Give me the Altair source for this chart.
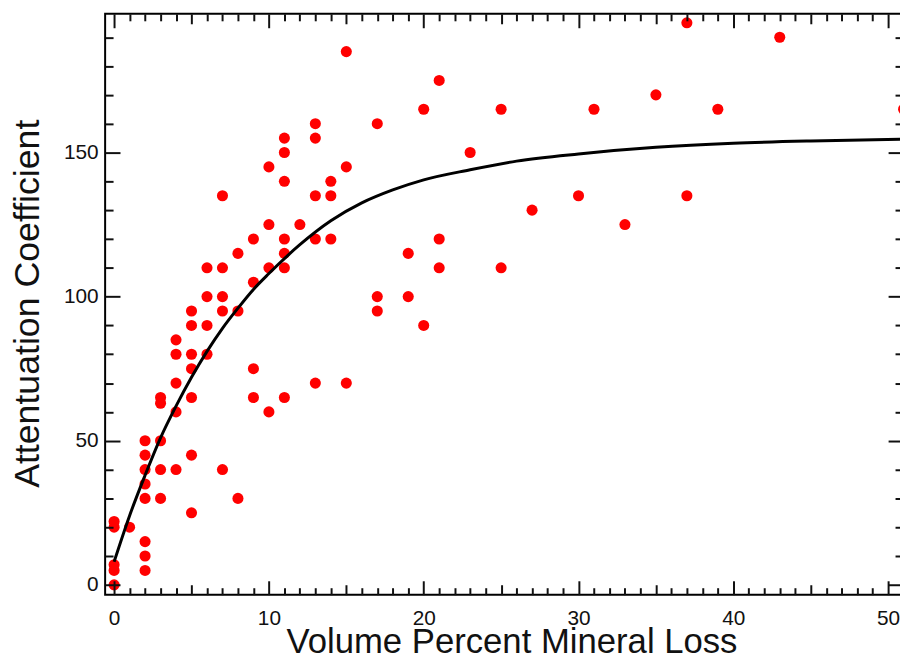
import altair as alt
import pandas as pd

# Scatter data: volume percent mineral loss vs attenuation coefficient
pts_x = [0, 0, 0, 0, 0,
         1,
         2, 2, 2, 2, 2, 2, 2, 2,
         3, 3, 3, 3, 3,
         4, 4, 4, 4, 4,
         5, 5, 5, 5, 5, 5, 5,
         6, 6, 6, 6,
         7, 7, 7, 7, 7,
         8, 8, 8,
         9, 9, 9, 9,
         10, 10, 10, 10,
         11, 11, 11, 11, 11, 11, 11,
         12,
         13, 13, 13, 13, 13,
         14, 14, 14,
         15, 15, 15,
         17, 17, 17,
         19, 19,
         20, 20,
         21, 21, 21,
         23,
         25, 25,
         27,
         30,
         31,
         33,
         35,
         37, 37,
         39,
         43,
         51]
pts_y = [22, 20, 7, 5, 0,
         20,
         50, 45, 40, 35, 30, 15, 10, 5,
         65, 63, 50, 40, 30,
         85, 80, 70, 60, 40,
         95, 90, 80, 75, 65, 45, 25,
         110, 100, 90, 80,
         135, 110, 100, 95, 40,
         115, 95, 30,
         120, 105, 75, 65,
         145, 125, 110, 60,
         155, 150, 140, 120, 115, 110, 65,
         125,
         160, 155, 135, 120, 70,
         140, 135, 120,
         185, 145, 70,
         160, 100, 95,
         115, 100,
         165, 90,
         175, 120, 110,
         150,
         165, 110,
         130,
         135,
         165,
         125,
         170,
         195, 135,
         165,
         190,
         165]

# Fitted curve
curve_x = [0, 1, 2, 3, 4, 5, 6, 7, 8, 9, 10, 12, 14, 16, 18, 20, 23, 26, 30, 35, 40, 45, 51]
curve_y = [8, 24, 38, 51, 62, 72, 81, 89, 96, 102.5, 108, 118, 126.3, 132.5, 137, 140.5,
           144, 147, 149.5, 151.8, 153.2, 154, 154.6]

x_major = [0, 10, 20, 30, 40, 50]
y_major = [0, 50, 100, 150]
x_ticks = list(range(0, 51))
y_ticks = list(range(0, 200, 10))

pts = pd.DataFrame({"x": pts_x, "y": pts_y})
crv = pd.DataFrame({"x": curve_x, "y": curve_y})

FONT = "Liberation Sans"
xscale = alt.Scale(domain=[-0.58, 50.96], nice=False, zero=False)
yscale = alt.Scale(domain=[-3.4, 198.1], nice=False, zero=False)

x_lab_axis = alt.Axis(
    orient="bottom", values=x_major, ticks=False, domain=False, grid=False,
    labelFont=FONT, labelFontSize=21, labelColor="#111", labelPadding=13,
    labelFlush=False, labelOverlap=False,
    title="Volume Percent Mineral Loss", titleFont=FONT, titleFontSize=35,
    titleFontWeight="normal", titleColor="#111", titleX=410, titleY=58,
    titleBaseline="alphabetic", titleAlign="center")
y_lab_axis = alt.Axis(
    orient="left", values=y_major, ticks=False, domain=False, grid=False,
    labelFont=FONT, labelFontSize=21, labelColor="#111", labelPadding=7,
    labelOverlap=False,
    title="Attentuation Coefficient", titleFont=FONT, titleFontSize=36,
    titleFontWeight="normal", titleColor="#111", titleAngle=270,
    titleX=-67, titleY=292, titleBaseline="alphabetic", titleAlign="center")

# inward ticks (negative size, multiplied by the axis' own sign)
X_TICK = "min(0, datum.value % 10 === 0 ? -14 : (datum.value % 5 === 0 ? -10 : -7))"
Y_TICK = "min(0, datum.value % 50 === 0 ? -15 : -8)"


def x_tick_axis(orient):
    return alt.Axis(orient=orient, values=x_ticks, labels=False, domain=False,
                    grid=False, ticks=True, tickSize=alt.ExprRef(expr=X_TICK),
                    tickColor="#111", tickWidth=2, title=None, zindex=1)


def y_tick_axis(orient):
    return alt.Axis(orient=orient, values=y_ticks, labels=False, domain=False,
                    grid=False, ticks=True, tickSize=alt.ExprRef(expr=Y_TICK),
                    tickColor="#111", tickWidth=2, title=None, zindex=1)


points = alt.Chart(pts).mark_circle(size=125, color="#ff0000", opacity=1).encode(
    x=alt.X("x:Q", scale=xscale, axis=x_lab_axis),
    y=alt.Y("y:Q", scale=yscale, axis=y_lab_axis),
)

line = alt.Chart(crv).mark_line(color="black", strokeWidth=3, interpolate="monotone").encode(
    x=alt.X("x:Q", scale=xscale, axis=x_tick_axis("bottom")),
    y=alt.Y("y:Q", scale=yscale, axis=y_tick_axis("left")),
)

line_top = alt.Chart(crv).mark_line(color="black", strokeWidth=3, opacity=0).encode(
    x=alt.X("x:Q", scale=xscale, axis=x_tick_axis("top")),
    y=alt.Y("y:Q", scale=yscale, axis=y_tick_axis("right")),
)

chart = alt.layer(points, line, line_top).resolve_axis(
    x="independent", y="independent"
).properties(
    width=805, height=586,
    autosize="none",
    padding={"left": 98, "top": 3, "right": -3, "bottom": 61},
    background="white",
).configure_view(stroke="black", strokeWidth=2
).configure_axis(labelFontSize=21, labelFont=FONT)

chart.save("out.html", embed_options={"renderer": "svg", "actions": False})
